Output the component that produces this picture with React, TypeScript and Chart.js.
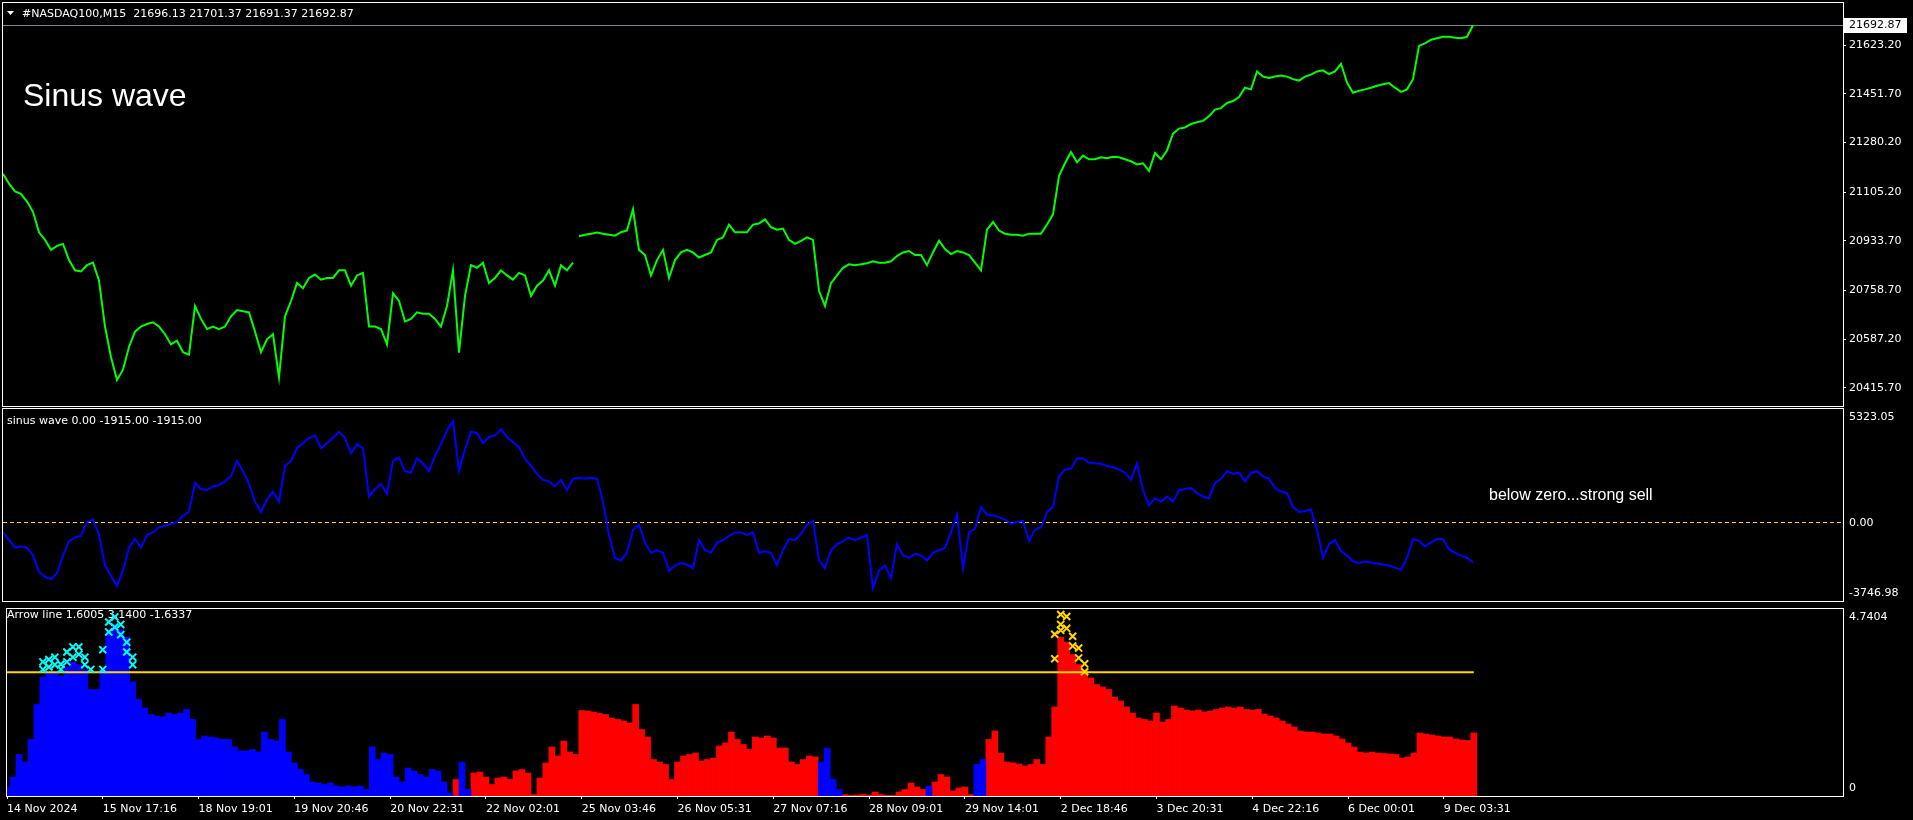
import React, { useEffect, useRef } from "react";
import { Chart, registerables } from "chart.js";

Chart.register(...registerables);

// ---------------- data ----------------
const symbolLabel = "#NASDAQ100,M15";
const lastBarOHLC = [21696.13, 21701.37, 21691.37, 21692.87];
const chartTitle = "Sinus wave";
const signalNote = "below zero...strong sell";

const timeTickIndex = [0, 16, 32, 48, 64, 80, 96, 112, 128, 144, 160, 176, 192, 208, 224, 240];
const timeTickLabels = [
  "14 Nov 2024", "15 Nov 17:16", "18 Nov 19:01", "19 Nov 20:46", "20 Nov 22:31", "22 Nov 02:01",
  "25 Nov 03:46", "26 Nov 05:31", "27 Nov 07:16", "28 Nov 09:01", "29 Nov 14:01", "2 Dec 18:46",
  "3 Dec 20:31", "4 Dec 22:16", "6 Dec 00:01", "9 Dec 03:31",
];

const priceTicks = [21623.2, 21451.7, 21280.2, 21105.2, 20933.7, 20758.7, 20587.2, 20415.7];
const priceRange = [20352.3, 21771.1];
const priceGapAfter = 95;

const closePrices = [
  21170, 21135, 21108, 21099, 21072, 21036, 20964, 20937, 20902, 20916,
  20923, 20866, 20830, 20826, 20848, 20857, 20794, 20632, 20524, 20444,
  20480, 20560, 20614, 20632, 20641, 20647, 20632, 20605, 20569, 20582,
  20542, 20533, 20704, 20659, 20623, 20632, 20623, 20632, 20668, 20690,
  20686, 20682, 20614, 20542, 20587, 20605, 20453, 20668, 20722, 20785,
  20767, 20803, 20815, 20797, 20803, 20803, 20830, 20830, 20776, 20812,
  20821, 20632, 20632, 20623, 20569, 20749, 20722, 20650, 20659, 20682,
  20677, 20677, 20659, 20632, 20704, 20830, 20540, 20740, 20848, 20839,
  20857, 20785, 20803, 20830, 20812, 20797, 20821, 20812, 20740, 20776,
  20794, 20830, 20776, 20848, 20830, 20857, 20950, 20955, 20959, 20963,
  20959, 20955, 20952, 20964, 20970, 21045, 20902, 20884, 20812, 20866,
  20902, 20803, 20866, 20893, 20902, 20893, 20875, 20884, 20893, 20937,
  20946, 20991, 20964, 20964, 20964, 20991, 20995, 21009, 20982, 20973,
  20977, 20937, 20923, 20934, 20946, 20937, 20758, 20704, 20785, 20812,
  20839, 20851, 20848, 20851, 20855, 20862, 20857, 20857, 20862, 20880,
  20893, 20898, 20884, 20884, 20848, 20893, 20934, 20905, 20887, 20898,
  20893, 20884, 20857, 20830, 20973, 21000, 20970, 20959, 20955, 20955,
  20952, 20959, 20959, 20959, 20991, 21027, 21162, 21207, 21246, 21210,
  21234, 21221, 21221, 21228, 21225, 21230, 21228, 21221, 21214, 21203,
  21207, 21180, 21243, 21221, 21252, 21311, 21329, 21333, 21345, 21351,
  21356, 21372, 21396, 21401, 21419, 21426, 21440, 21473, 21467, 21530,
  21512, 21507, 21512, 21516, 21512, 21503, 21498, 21512, 21519, 21530,
  21534, 21521, 21530, 21557, 21491, 21455, 21462, 21467, 21473, 21480,
  21485, 21489, 21473, 21458, 21467, 21503, 21620, 21629, 21642, 21647,
  21652, 21652, 21649, 21647, 21652, 21692.87,
];

const sinusWave = [
  -506, -868, -1229, -1157, -1229, -1591, -2362, -2603, -2723, -2434,
  -1591, -916, -747, -675, -24, 96, -627, -2073, -2555, -3037,
  -2314, -1229, -819, -1229, -627, -506, -265, -193, -96, -24,
  289, 458, 1832, 1542, 1494, 1663, 1735, 1904, 2145, 2868,
  2386, 1783, 940, 458, 1060, 1422, 940, 2627, 2868, 3470,
  3711, 3952, 4073, 3470, 3711, 3952, 4242, 3952, 3229, 3663,
  3470, 1181, 1542, 1783, 1301, 2868, 3037, 2386, 2314, 2988,
  2747, 2386, 3109, 3663, 4314, 4750, 2400, 3422, 4242, 4193,
  3711, 4001, 4073, 4362, 4001, 3760, 3519, 2988, 2627, 2265,
  1976, 1904, 1663, 1976, 1494, 2024, 2073, 2024, 2073, 2024,
  940, -627, -1711, -1832, -1470, -386, -145, -988, -1470, -1350,
  -1470, -2314, -2073, -1952, -2024, -2193, -868, -1350, -1470, -988,
  -868, -675, -506, -506, -627, -506, -1470, -1398, -1470, -2073,
  -1350, -819, -868, -578, -145, 48, -1832, -2193, -1350, -1060,
  -916, -747, -868, -747, -627, -3150, -2314, -2073, -2675, -1060,
  -1591, -1711, -1518, -1591, -1832, -1470, -1350, -1229, -506, 337,
  -2193, -506, -337, 699, 337, 289, 217, 96, -96, -24,
  48, -916, -386, -265, 458, 699, 2145, 2458, 2506, 2988,
  2988, 2796, 2747, 2747, 2627, 2579, 2458, 2314, 1976, 2747,
  1494, 771, 1109, 940, 1181, 940, 1494, 1542, 1591, 1350,
  1181, 1109, 1832, 2024, 2386, 2265, 2314, 1904, 2314, 2386,
  2145, 2024, 1591, 1422, 1350, 699, 458, 506, 578, -386,
  -1711, -1060, -868, -1398, -1591, -1880, -1952, -1880, -1928, -1976,
  -2024, -2073, -2169, -2265, -1711, -819, -916, -1157, -988, -819,
  -819, -1301, -1470, -1591, -1711, -1915,
];
const sinusRange = [-3746.98, 5323.05];
const sinusLevel = 0;
const sinusHeaderValues = [0, -1915, -1915];

const arrowLine = [
  0.228, 0.482, 1.052, 0.862, 1.432, 2.320, 3.017, 3.143, 3.118, 3.042,
  3.270, 3.397, 3.334, 3.207, 2.700, 2.700, 3.207, 4.157, 4.348, 4.221,
  4.031, 2.890, 2.446, 2.231, 2.066, 2.028, 2.003, 2.104, 2.066, 2.104,
  2.193, 1.939, 1.432, 1.521, 1.496, 1.470, 1.432, 1.432, 1.242, 1.141,
  1.141, 1.179, 1.115, 1.622, 1.432, 1.394, 1.939, 1.115, 0.837, 0.672,
  0.545, 0.355, 0.330, 0.292, 0.330, 0.254, 0.228, 0.254, 0.228, 0.254,
  0.165, 1.242, 0.925, 1.090, 1.052, 0.482, 0.355, 0.710, 0.634, 0.545,
  0.482, 0.672, 0.634, 0.355, 0.076, 0.418, 0.862, 0.165, 0.583, 0.608,
  0.482, 0.292, 0.456, 0.482, 0.418, 0.634, 0.672, 0.583, 0.038, 0.456,
  0.837, 1.242, 1.014, 1.394, 1.115, 1.052, 2.167, 2.155, 2.129, 2.091,
  2.066, 1.977, 1.939, 1.901, 1.851, 2.320, 1.686, 1.496, 0.925, 0.862,
  0.799, 0.418, 0.862, 1.014, 1.052, 1.090, 0.887, 0.925, 0.963, 1.268,
  1.344, 1.622, 1.432, 1.306, 1.179, 1.496, 1.470, 1.521, 1.470, 1.217,
  1.217, 0.862, 0.799, 0.925, 1.014, 0.989, 0.862, 1.217, 0.418, 0.165,
  0.038, 0.013, 0.025, 0.038, 0.025, 0.101, 0.038, 0.013, 0.013, 0.101,
  0.165, 0.330, 0.228, 0.165, 0.254, 0.355, 0.545, 0.482, 0.127, 0.203,
  0.228, 0.038, 0.799, 0.925, 1.432, 1.648, 1.090, 0.862, 0.837, 0.811,
  0.761, 0.799, 0.925, 0.799, 1.496, 2.256, 4.031, 3.904, 3.587, 3.334,
  3.169, 2.991, 2.827, 2.763, 2.700, 2.510, 2.408, 2.256, 2.104, 1.977,
  1.939, 1.901, 2.104, 1.876, 1.939, 2.282, 2.231, 2.180, 2.155, 2.180,
  2.129, 2.155, 2.193, 2.231, 2.256, 2.231, 2.256, 2.193, 2.180, 2.193,
  2.079, 2.028, 1.977, 1.901, 1.825, 1.749, 1.648, 1.622, 1.622, 1.597,
  1.572, 1.572, 1.521, 1.445, 1.344, 1.242, 1.115, 1.090, 1.115, 1.090,
  1.077, 1.065, 1.052, 0.963, 0.989, 1.090, 1.597, 1.572, 1.546, 1.521,
  1.496, 1.496, 1.445, 1.420, 1.407, 1.6005,
];
// runs of [bar count, direction]
const arrowTrendRuns: [number, string][] = [
  [75, "up"], [1, "down"], [2, "up"], [58, "down"], [4, "up"],
  [14, "down"], [1, "up"], [7, "down"], [2, "up"], [82, "down"],
];
const arrowRange = [0, 4.7404];
const arrowLevel = 3.14;
const arrowHeaderValues = [1.6005, 3.14, -1.6337];
const upArrows: [number, number][] = [
  [6, 3.21], [6, 3.40], [7, 3.46], [7, 3.27], [8, 3.33], [8, 3.52], [9, 3.21], [9, 3.34],
  [10, 3.40], [10, 3.65], [11, 3.78], [11, 3.52], [12, 3.59], [12, 3.78], [13, 3.33], [13, 3.52],
  [14, 3.21], [16, 3.71], [16, 3.21], [17, 4.41], [17, 4.16], [18, 4.54], [18, 4.28], [19, 4.35],
  [19, 4.09], [20, 3.90], [20, 3.65], [21, 3.33], [21, 3.52],
];
const downArrows: [number, number][] = [
  [175, 3.48], [175, 4.10], [176, 4.35], [176, 4.60], [176, 4.20], [177, 4.55], [177, 4.25],
  [178, 4.05], [178, 3.80], [179, 3.75], [179, 3.50], [180, 3.35], [180, 3.15],
];

// ---------------- layout / style ----------------
const W = 1913;
const AXIS_W = 70;
const PLOT_LEFT = 3;
const BAR_PX = 6;
const visibleBars = (W - AXIS_W - PLOT_LEFT) / BAR_PX;
const UI_FONT = "DejaVu Sans";
const WHITE = "#ffffff";
const GOLD = "#ffd700";

const trendByBar: string[] = [];
arrowTrendRuns.forEach(([n, t]) => {
  for (let k = 0; k < n; k++) trendByBar.push(t);
});

const framePlugin = {
  id: "frame",
  afterDraw(chart: any) {
    const { ctx, chartArea: a } = chart;
    ctx.save();
    ctx.strokeStyle = WHITE;
    ctx.lineWidth = 1;
    ctx.strokeRect(a.left - 0.5, a.top - 0.5, a.right - a.left + 1, a.bottom - a.top + 1);
    ctx.restore();
  },
};

const baseOptions = (padTop: number, padBottom: number, padRight: number) => ({
  responsive: false,
  animation: false as const,
  devicePixelRatio: 1,
  events: [] as any[],
  layout: { padding: { left: PLOT_LEFT, top: padTop, bottom: padBottom, right: padRight } },
  plugins: { legend: { display: false }, tooltip: { enabled: false } },
});

const hiddenX = {
  type: "linear" as const,
  min: 0,
  max: visibleBars,
  offset: false,
  display: false,
};

export default function App() {
  const mainRef = useRef<HTMLCanvasElement>(null);
  const sinRef = useRef<HTMLCanvasElement>(null);
  const arrRef = useRef<HTMLCanvasElement>(null);

  useEffect(() => {
    const charts: Chart[] = [];

    // ---------- main price panel ----------
    const mainDecor = {
      id: "mainDecor",
      beforeDatasetsDraw(chart: any) {
        const { ctx, chartArea: a, scales } = chart;
        const py = Math.round(scales.y.getPixelForValue(lastBarOHLC[3])) + 0.5;
        ctx.save();
        ctx.strokeStyle = "#778899";
        ctx.lineWidth = 1;
        ctx.beginPath();
        ctx.moveTo(a.left, py);
        ctx.lineTo(a.right, py);
        ctx.stroke();
        ctx.fillStyle = WHITE;
        ctx.font = '32px "Liberation Sans"';
        ctx.textBaseline = "alphabetic";
        ctx.fillText(chartTitle, 23, 106);
        ctx.restore();
      },
      afterDraw(chart: any) {
        const { ctx, scales } = chart;
        ctx.save();
        ctx.fillStyle = WHITE;
        ctx.beginPath();
        ctx.moveTo(7, 11);
        ctx.lineTo(14, 11);
        ctx.lineTo(10.5, 15);
        ctx.closePath();
        ctx.fill();
        ctx.font = `11px "${UI_FONT}"`;
        ctx.textBaseline = "alphabetic";
        ctx.fillText(`${symbolLabel}  ${lastBarOHLC.map((v) => v.toFixed(2)).join(" ")}`, 22, 17);
        const py = Math.round(scales.y.getPixelForValue(lastBarOHLC[3]));
        ctx.fillRect(W - AXIS_W + 1, py - 7, 63, 15);
        ctx.fillStyle = "#000000";
        ctx.textBaseline = "middle";
        ctx.fillText(lastBarOHLC[3].toFixed(2), W - AXIS_W + 6, py + 0.5);
        ctx.restore();
      },
    };

    charts.push(
      new Chart(mainRef.current as HTMLCanvasElement, {
        type: "line",
        data: {
          datasets: [
            {
              data: closePrices.map((v, i) => ({ x: i, y: v })),
              borderColor: "#00ff00",
              borderWidth: 2,
              pointRadius: 0,
              tension: 0,
              segment: {
                borderColor: (c: any) => (c.p0DataIndex === priceGapAfter ? "rgba(0,0,0,0)" : undefined),
              },
            },
          ],
        },
        options: {
          ...baseOptions(3, 1, 0),
          scales: {
            x: hiddenX,
            y: {
              type: "linear",
              position: "right",
              min: priceRange[0],
              max: priceRange[1],
              afterBuildTicks: (s: any) => {
                s.ticks = priceTicks.map((v) => ({ value: v }));
              },
              afterFit: (s: any) => {
                s.width = AXIS_W;
                s.paddingTop = 0;
                s.paddingBottom = 0;
              },
              grid: { drawOnChartArea: false, drawTicks: true, tickLength: 3, color: WHITE },
              border: { display: false },
              ticks: {
                padding: 3,
                color: WHITE,
                font: { family: UI_FONT, size: 11 },
                callback: (v: any) => Number(v).toFixed(2),
              },
            },
          },
        } as any,
        plugins: [mainDecor, framePlugin],
      })
    );

    // ---------- sinus wave panel ----------
    const sinDecor = {
      id: "sinDecor",
      beforeDatasetsDraw(chart: any) {
        const { ctx, scales, chartArea: a } = chart;
        ctx.save();
        const zy = Math.round(scales.y.getPixelForValue(sinusLevel)) + 0.5;
        ctx.strokeStyle = GOLD;
        ctx.lineWidth = 1;
        ctx.setLineDash([4, 3]);
        ctx.beginPath();
        ctx.moveTo(a.left, zy);
        ctx.lineTo(a.right, zy);
        ctx.stroke();
        ctx.setLineDash([]);
        ctx.fillStyle = WHITE;
        ctx.font = `11px "${UI_FONT}"`;
        ctx.textBaseline = "alphabetic";
        ctx.fillText(`sinus wave ${sinusHeaderValues.map((v) => v.toFixed(2)).join(" ")}`, 7, 17);
        ctx.font = '16px "Liberation Sans"';
        ctx.fillText(signalNote, 1489, 93);
        ctx.font = `11px "${UI_FONT}"`;
        ctx.textBaseline = "middle";
        const lx = W - AXIS_W + 6;
        ctx.fillText(sinusRange[1].toFixed(2), lx, scales.y.getPixelForValue(sinusRange[1]) + 8);
        ctx.fillText(sinusLevel.toFixed(2), lx, zy + 0.5);
        ctx.fillText(sinusRange[0].toFixed(2), lx, scales.y.getPixelForValue(sinusRange[0]) - 8);
        ctx.restore();
      },
    };

    charts.push(
      new Chart(sinRef.current as HTMLCanvasElement, {
        type: "line",
        data: {
          datasets: [
            {
              data: sinusWave.map((v, i) => ({ x: i, y: v })),
              borderColor: "#0000ff",
              borderWidth: 2,
              pointRadius: 0,
              tension: 0,
            },
          ],
        },
        options: {
          ...baseOptions(2, 1, AXIS_W),
          scales: {
            x: hiddenX,
            y: { type: "linear", display: false, min: sinusRange[0], max: sinusRange[1] },
          },
        } as any,
        plugins: [sinDecor, framePlugin],
      })
    );

    // ---------- arrow line panel ----------
    const arrDecor = {
      id: "arrDecor",
      beforeDatasetsDraw(chart: any) {
        const { ctx, scales } = chart;
        ctx.save();
        ctx.fillStyle = WHITE;
        ctx.font = `11px "${UI_FONT}"`;
        ctx.textBaseline = "alphabetic";
        ctx.fillText(`Arrow line ${arrowHeaderValues.map((v) => v.toFixed(4)).join(" ")}`, 7, 16);
        ctx.textBaseline = "middle";
        const lx = W - AXIS_W + 6;
        ctx.fillText(arrowRange[1].toFixed(4), lx, scales.y.getPixelForValue(arrowRange[1]) + 8);
        ctx.fillText(String(arrowRange[0]), lx, scales.y.getPixelForValue(arrowRange[0]) - 8);
        ctx.restore();
      },
    };

    const crossStyle = (color: string) => ({
      type: "line",
      showLine: false,
      pointStyle: "crossRot",
      pointRadius: 5,
      pointBorderWidth: 2,
      pointBorderColor: color,
      pointBackgroundColor: color,
      borderColor: color,
    });

    const barStyle = {
      type: "bar",
      grouped: false,
      categoryPercentage: 1,
      barPercentage: 1,
      borderWidth: 0,
      order: 4,
    };

    charts.push(
      new Chart(arrRef.current as HTMLCanvasElement, {
        type: "bar",
        data: {
          datasets: [
            {
              ...barStyle,
              data: arrowLine.map((v, i) => ({ x: i, y: trendByBar[i] === "up" ? v : null })),
              backgroundColor: "#0000ff",
            },
            {
              ...barStyle,
              data: arrowLine.map((v, i) => ({ x: i, y: trendByBar[i] === "down" ? v : null })),
              backgroundColor: "#ff0000",
            },
            {
              type: "line",
              data: [
                { x: 0, y: arrowLevel },
                { x: arrowLine.length - 1, y: arrowLevel },
              ],
              borderColor: GOLD,
              borderWidth: 2,
              pointRadius: 0,
              order: 3,
            },
            {
              ...crossStyle("#00ffff"),
              data: upArrows.map(([i, v]) => ({ x: i, y: v })),
              order: 1,
            },
            {
              ...crossStyle(GOLD),
              data: downArrows.map(([i, v]) => ({ x: i, y: v })),
              order: 1,
            },
          ],
        } as any,
        options: {
          ...baseOptions(2, 0, AXIS_W),
          scales: {
            x: {
              type: "linear",
              min: 0,
              max: visibleBars,
              offset: false,
              afterBuildTicks: (s: any) => {
                s.ticks = timeTickIndex.map((v) => ({ value: v }));
              },
              afterFit: (s: any) => {
                s.height = 24;
                s.paddingLeft = 0;
                s.paddingRight = 0;
              },
              grid: { offset: false, drawOnChartArea: false, drawTicks: true, tickLength: 3, color: WHITE },
              border: { display: false },
              ticks: {
                autoSkip: false,
                maxRotation: 0,
                minRotation: 0,
                align: "start",
                padding: 4,
                color: WHITE,
                font: { family: UI_FONT, size: 11 },
                callback: (v: any) => {
                  const k = timeTickIndex.indexOf(Number(v));
                  return k >= 0 ? timeTickLabels[k] : "";
                },
              },
            },
            y: { type: "linear", display: false, min: arrowRange[0], max: arrowRange[1] },
          },
        } as any,
        plugins: [arrDecor, framePlugin],
      })
    );

    return () => charts.forEach((c) => c.destroy());
  }, []);

  const cv = (top: number, h: number): React.CSSProperties => ({
    position: "absolute",
    left: 0,
    top,
    width: W,
    height: h,
    display: "block",
  });

  return (
    <div
      style={{
        position: "fixed",
        left: 0,
        top: 0,
        width: W,
        height: 820,
        background: "#000000",
        overflow: "hidden",
      }}
    >
      <canvas ref={mainRef} width={W} height={407} style={cv(0, 407)} />
      <canvas ref={sinRef} width={W} height={195} style={cv(407, 195)} />
      <canvas ref={arrRef} width={W} height={218} style={cv(602, 218)} />
    </div>
  );
}
